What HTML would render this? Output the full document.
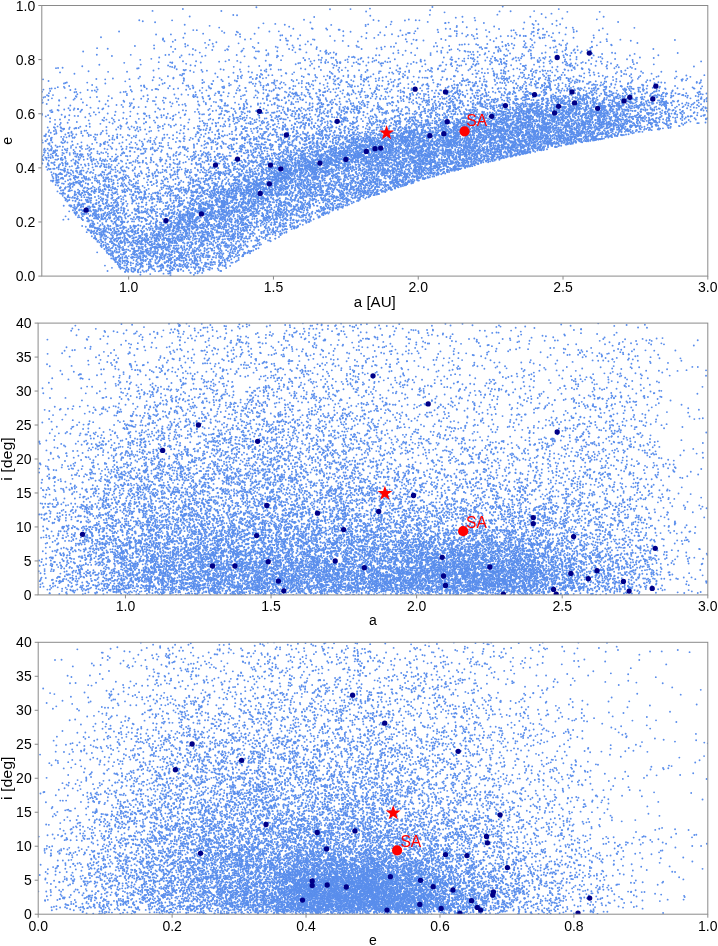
<!DOCTYPE html>
<html><head><meta charset="utf-8">
<style>
html,body{margin:0;padding:0;background:#fff;width:718px;height:946px;overflow:hidden}
#c{position:absolute;left:0;top:0}
#s{position:absolute;left:0;top:0}
text{font-family:"Liberation Sans",sans-serif;font-size:14px;fill:#000}
</style></head><body>
<canvas id="c" width="718" height="946"></canvas>
<svg id="s" width="718" height="946"></svg>
<script>
// seeded PRNG
function mulberry32(a){return function(){a|=0;a=a+0x6D2B79F5|0;var t=Math.imul(a^a>>>15,1|a);t=t+Math.imul(t^t>>>7,61|t)^t;return((t^t>>>14)>>>0)/4294967296;}}
function sstep(a,b,x){var t=(x-a)/(b-a);t=t<0?0:t>1?1:t;return t*t*(3-2*t);}
function lerpTab(xs,ys,x){if(x<=xs[0])return ys[0];for(var k=1;k<xs.length;k++){if(x<=xs[k]){var t=(x-xs[k-1])/(xs[k]-xs[k-1]);return ys[k-1]+(ys[k]-ys[k-1])*t;}}return ys[ys.length-1];}
// plot1 density (rho, expected dots per 4px^2)
var LA=[0.7,0.8,0.9,1.0,1.1],LD=[0,0.1,0.2,0.3,0.4,0.5,0.6,0.7,0.8,0.9];
var LT=[
[0.35,0.30,0.12,0.04,0.01,0.0,0.0,0.0,0.0,0.0],
[0.50,0.45,0.30,0.15,0.06,0.02,0.005,0.0,0.0,0.0],
[0.58,0.55,0.42,0.28,0.16,0.08,0.04,0.015,0.005,0.0],
[0.62,0.60,0.50,0.37,0.26,0.15,0.10,0.05,0.02,0.005],
[0.62,0.60,0.52,0.40,0.26,0.15,0.10,0.05,0.02,0.005]];
function rho1(a,e){
  var q=a*(1-e),Q=a*(1+e);
  if(q>1.3) return 0;
  var qp=0.96;
  var F=lerpTab([1.0,1.2,1.5,1.9,2.1,2.4,2.5,2.6,2.7,2.8,2.9,3.0],[0.9,1.05,1.3,1.4,1.45,1.55,1.4,1.2,1.0,0.6,0.26,0.18],a);
  var L=lerpTab([1.0,1.3,1.6,1.9,2.1,3.0],[0.6,0.4,0.5,0.8,1.0,1.0],a);
  var A1=lerpTab([1.0,1.6,2.0,2.45,2.7,3.0],[0.55,0.55,0.8,0.7,0.85,0.9],a),s1=0.1;
  var s2=lerpTab([1.0,1.3,1.6,2.0,2.45,2.7,3.0],[0.3,0.32,0.32,0.4,0.5,0.35,0.3],a);
  var TM=lerpTab([1.0,1.1,2.3,2.5],[1.0,1.2,1.2,1.0],a);
  var g;
  if(q<=qp){var d=qp-q; g=A1*Math.exp(-d/s1)+TM*(1-A1)*Math.exp(-d/s2);}
  else { var t=(q-qp)/(1.3-qp); g=1+(L-1)*t; }
  var RG=lerpTab([1.0,1.2,1.9,2.1],[0.0,0.3,0.3,0.0],a);
  g+=RG*Math.exp(-Math.pow((q-0.96)/0.06,2));
  var r=F*g;
  if(a<1.12){
    var Qb=lerpTab([0.7,0.8,1.0],[0.99,1.0,1.0],a);
    var eq=Math.max(Qb/a-1,0), d2=e-eq;
    var rl=cov2rho(bilin(LA,LD,LT,a,Math.max(d2,0)));
    rl*=0.98*sstep(-0.008,0.008,d2)+0.02*sstep(-0.15,0,d2);
    var w=sstep(1.12,1.0,a);
    r=r*(1-w)+rl*w;
  }
  r*=sstep(0.0,0.03,e);
  r*=1-Math.exp(-q/0.14);
  if(e<0.4) r*=1-0.6*Math.exp(-Math.pow((a-1.003)/0.006,2))*sstep(0.4,0.25,e);
  return r;
}
function bilin(xs,ys,T,x,y){
  var i=0,j=0;
  while(i<xs.length-2&&x>xs[i+1])i++;
  while(j<ys.length-2&&y>ys[j+1])j++;
  var tx=(x-xs[i])/(xs[i+1]-xs[i]),ty=(y-ys[j])/(ys[j+1]-ys[j]);
  tx=tx<0?0:tx>1?1:tx;ty=ty<0?0:ty>1?1:ty;
  return (T[i][j]*(1-ty)+T[i][j+1]*ty)*(1-tx)+(T[i+1][j]*(1-ty)+T[i+1][j+1]*ty)*tx;
}
function cov2rho(c){return -Math.log(1-Math.min(c,0.97));}
var A2=[0.7,0.8,0.9,1.0,1.2,1.5,1.8,2.0,2.2,2.4,2.6,2.75,2.875,3.0];
var I2=[0,2.5,5,7.5,10,15,20,25,30,35,40];
var T2=[
[0.13,0.13,0.13,0.12,0.11,0.08,0.05,0.03,0.015,0.005,0.0],
[0.24,0.24,0.23,0.21,0.19,0.14,0.09,0.055,0.03,0.018,0.01],
[0.40,0.40,0.38,0.35,0.32,0.24,0.16,0.10,0.06,0.04,0.03],
[0.58,0.58,0.55,0.50,0.45,0.34,0.24,0.16,0.10,0.07,0.05],
[0.70,0.70,0.65,0.58,0.50,0.38,0.28,0.19,0.12,0.09,0.07],
[0.74,0.74,0.68,0.60,0.52,0.40,0.30,0.21,0.14,0.10,0.08],
[0.76,0.76,0.70,0.60,0.48,0.32,0.22,0.16,0.11,0.08,0.07],
[0.80,0.80,0.76,0.66,0.46,0.22,0.14,0.10,0.08,0.065,0.055],
[0.82,0.82,0.78,0.68,0.46,0.21,0.16,0.11,0.07,0.05,0.04],
[0.80,0.80,0.75,0.64,0.44,0.20,0.13,0.09,0.05,0.035,0.03],
[0.50,0.48,0.42,0.34,0.27,0.19,0.13,0.14,0.10,0.06,0.03],
[0.32,0.32,0.30,0.27,0.22,0.13,0.11,0.13,0.09,0.05,0.02],
[0.07,0.07,0.065,0.06,0.055,0.04,0.03,0.015,0.012,0.012,0.012],
[0.035,0.035,0.035,0.03,0.03,0.02,0.015,0.01,0.01,0.01,0.01]];
function rho2(a,i){return cov2rho(bilin(A2,I2,T2,a,i))*(0.4+0.6*sstep(0,1.0,i));}
var E3=[0,0.05,0.1,0.2,0.3,0.4,0.5,0.6,0.7,0.8,0.9,1.0];
var I3=[0,2.5,5,7.5,10,15,20,25,30,35,40];
var T3=[
[0.03,0.03,0.03,0.03,0.03,0.02,0.012,0.006,0.003,0.0,0.0],
[0.14,0.14,0.13,0.12,0.11,0.08,0.05,0.03,0.018,0.012,0.006],
[0.28,0.28,0.27,0.25,0.22,0.17,0.12,0.08,0.05,0.03,0.02],
[0.50,0.50,0.49,0.46,0.42,0.35,0.27,0.19,0.13,0.09,0.06],
[0.70,0.70,0.68,0.64,0.56,0.44,0.34,0.24,0.16,0.11,0.08],
[0.90,0.90,0.87,0.78,0.62,0.45,0.35,0.23,0.16,0.11,0.08],
[0.93,0.93,0.90,0.80,0.60,0.42,0.32,0.22,0.15,0.10,0.08],
[0.82,0.80,0.74,0.60,0.45,0.32,0.23,0.17,0.12,0.09,0.07],
[0.45,0.42,0.36,0.28,0.22,0.16,0.12,0.09,0.07,0.05,0.04],
[0.16,0.15,0.13,0.11,0.09,0.07,0.055,0.045,0.035,0.025,0.02],
[0.05,0.05,0.04,0.04,0.035,0.03,0.025,0.02,0.015,0.012,0.01],
[0.005,0.005,0.005,0.005,0.005,0.005,0.005,0.004,0.003,0.003,0.003]];
function rho3(e,i){return cov2rho(bilin(E3,I3,T3,e,i))*(0.4+0.6*sstep(0,1.0,i));}

var RCOMP=0.2,DOTA=2.27,DOTR=0.95,DOTS=2.0,DOTC="#5a8eec",NAVYC="#000088";
var P=[
 {x0:41.8,x1:707.8,y0:5.5,y1:276.1,xa:0.7,xb:3.0,ya:0,yb:1,
  xt:[1.0,1.5,2.0,2.5,3.0],xf:1,yt:[0,0.2,0.4,0.6,0.8,1.0],yf:1,xl:'a [AU]',yl:'e',rho:rho1,seed:11,
  star:[386.6,132.9],sa:[464.6,131.3],sat:[466.3,125.7]},
 {x0:38.1,x1:707.8,y0:323.1,y1:594.9,xa:0.7,xb:3.0,ya:0,yb:40,
  xt:[1.0,1.5,2.0,2.5,3.0],xf:1,yt:[0,5,10,15,20,25,30,35,40],yf:0,xl:'a',yl:'i [deg]',rho:rho2,seed:22,
  star:[384.9,493.4],sa:[463.2,531.2],sat:[466.0,527.8]},
 {x0:38.2,x1:707.8,y0:642.3,y1:914.2,xa:0,xb:1,ya:0,yb:40,
  xt:[0,0.2,0.4,0.6,0.8,1.0],xf:1,yt:[0,5,10,15,20,25,30,35,40],yf:0,xl:'e',yl:'i [deg]',rho:rho3,seed:33,
  star:[393.2,813.0],sa:[397.05,850.4],sat:[400.4,847.0]}
];
var NAVY=[
[[86.1,210.2],[166.0,220.6],[201.4,213.9],[215.5,165.1],[237.5,159.1],[259.4,111.3],[260.2,193.5],[269.4,183.8],[270.5,165.1],[280.8,168.8],[286.4,135.0],[319.9,163.1],[337.2,121.3],[345.9,159.4],[366.3,151.4],[375.0,148.7],[380.7,148.1],[415.1,89.2],[429.8,135.7],[443.9,133.7],[445.5,91.9],[447.2,121.7],[491.7,116.3],[505.4,105.6],[534.5,94.6],[554.6,113.0],[557.2,57.5],[558.6,106.3],[572.0,91.9],[574.6,102.9],[589.3,53.1],[597.7,108.3],[624.1,100.9],[629.8,97.3],[652.8,98.9],[655.8,86.2]],
[[82.5,534.3],[162.7,450.4],[198.4,425.0],[257.6,441.3],[266.8,505.4],[256.6,535.6],[212.5,566.0],[234.9,566.0],[268.2,561.7],[278.4,581.1],[283.8,590.8],[317.5,513.2],[335.2,561.0],[343.6,529.6],[364.3,567.7],[373.0,375.8],[378.7,511.5],[413.5,495.5],[428.2,403.9],[442.2,557.3],[443.5,576.0],[445.5,585.4],[489.8,567.0],[503.4,594.1],[533.2,517.6],[533.2,523.6],[553.6,589.4],[556.2,594.1],[557.2,432.0],[570.9,573.4],[573.6,536.6],[588.3,578.7],[597.0,570.7],[623.4,581.4],[629.1,591.1],[652.2,588.4],[655.2,548.3]],
[[192.1,744.0],[175.4,769.7],[241.6,760.3],[266.0,824.5],[200.5,853.3],[352.6,695.2],[384.7,723.2],[458.2,751.3],[317.2,832.5],[355.0,830.9],[326.5,848.9],[312.2,881.0],[312.2,885.4],[327.2,885.0],[346.3,887.0],[302.5,900.1],[390.4,876.7],[420.5,880.3],[433.2,886.7],[445.5,854.6],[466.9,855.6],[452.9,890.0],[419.8,904.4],[441.2,908.4],[387.0,910.1],[471.5,900.7],[477.3,907.4],[480.6,910.1],[459.9,913.4],[486.5,836.5],[487.4,842.8],[500.1,814.8],[507.4,867.6],[493.4,892.0],[492.7,895.1],[589.7,898.1],[578.0,913.1]]
];
function X(p,v){return p.x0+(v-p.xa)/(p.xb-p.xa)*(p.x1-p.x0);}
function Y(p,v){return p.y1-(v-p.ya)/(p.yb-p.ya)*(p.y1-p.y0);}
var cv=document.getElementById('c'),ctx=cv.getContext('2d');
ctx.fillStyle='#fff';ctx.fillRect(0,0,718,946);
P.forEach(function(p,k){
  var W=p.x1-p.x0,H=p.y1-p.y0,rm=0;
  for(var gx=0;gx<=100;gx++)for(var gy=0;gy<=100;gy++){var v=p.rho(p.xa+(p.xb-p.xa)*gx/100,p.ya+(p.yb-p.ya)*gy/100);if(v>rm)rm=v;}
  rm*=1.05;
  var R=mulberry32(p.seed),N=Math.round(rm*W*H/DOTA);
  ctx.save();ctx.beginPath();ctx.rect(p.x0,p.y0,W,H);ctx.clip();
  ctx.fillStyle=DOTC;
  for(var n=0;n<N;n++){
    var u=R(),w=R(),z=R();
    var dx=p.xa+(p.xb-p.xa)*u, dy=p.ya+(p.yb-p.ya)*w;
    var rr=p.rho(dx,dy);rr*=1-RCOMP*sstep(0.1,0.6,rr)*sstep(2.2,1.2,rr);if(z*rm<rr){
      var px=p.x0+u*W, py=p.y1-w*H;
      ctx.beginPath();ctx.arc(px,py,DOTR,0,6.2832);ctx.fill();
    }
  }
  ctx.fillStyle=NAVYC;
  NAVY[k].forEach(function(d){ctx.beginPath();ctx.arc(d[0],d[1],2.65,0,6.2832);ctx.fill();});
  ctx.restore();
});
var svg=document.getElementById('s'),h='';
function starPath(cx,cy,R,r){var s='';for(var j=0;j<10;j++){var ang=-Math.PI/2+j*Math.PI/5,rr=j%2?r:R;s+=(j?'L':'M')+(cx+rr*Math.cos(ang)).toFixed(2)+' '+(cy+rr*Math.sin(ang)).toFixed(2);}return s+'Z';}
P.forEach(function(p,k){
  var sc='#8a8a8a';
  h+='<path d="'+starPath(p.star[0],p.star[1],7.8,3.1)+'" fill="#f00"/>';
  h+='<circle cx="'+p.sa[0]+'" cy="'+p.sa[1]+'" r="5.1" fill="#f00"/>';
  h+='<text x="'+p.sat[0]+'" y="'+p.sat[1]+'" style="fill:#f00;font-size:16.4px" textLength="20.8" lengthAdjust="spacingAndGlyphs">SA</text>';
  h+='<rect x="'+p.x0+'" y="'+p.y0+'" width="'+(p.x1-p.x0)+'" height="'+(p.y1-p.y0)+'" fill="none" stroke="'+sc+'" stroke-width="1"/>';
  p.xt.forEach(function(v){var x=X(p,v);
    h+='<line x1="'+x+'" x2="'+x+'" y1="'+p.y1+'" y2="'+(p.y1+3.5)+'" stroke="'+sc+'" stroke-width="1"/>';
    h+='<text x="'+x+'" y="'+(p.y1+16.3)+'" text-anchor="middle">'+v.toFixed(p.xf)+'</text>';});
  p.yt.forEach(function(v){var y=Y(p,v);
    h+='<line x1="'+(p.x0-3.5)+'" x2="'+p.x0+'" y1="'+y+'" y2="'+y+'" stroke="'+sc+'" stroke-width="1"/>';
    h+='<text x="'+(p.x0-6.5)+'" y="'+(y+5)+'" text-anchor="end">'+v.toFixed(p.yf)+'</text>';});
  var cx=(p.x0+p.x1)/2, cy=(p.y0+p.y1)/2;
  var xtl=p.xl.length>2?' textLength="42" lengthAdjust="spacingAndGlyphs"':'';
  var ytl=p.yl.length>2?' textLength="43.5" lengthAdjust="spacingAndGlyphs"':'';
  h+='<text x="'+cx+'" y="'+(p.y1+30.5)+'" text-anchor="middle"'+xtl+'>'+p.xl+'</text>';
  h+='<text transform="translate(12,'+cy+') rotate(-90)" text-anchor="middle"'+ytl+'>'+p.yl+'</text>';
});
svg.innerHTML=h;
</script>
</body></html>
